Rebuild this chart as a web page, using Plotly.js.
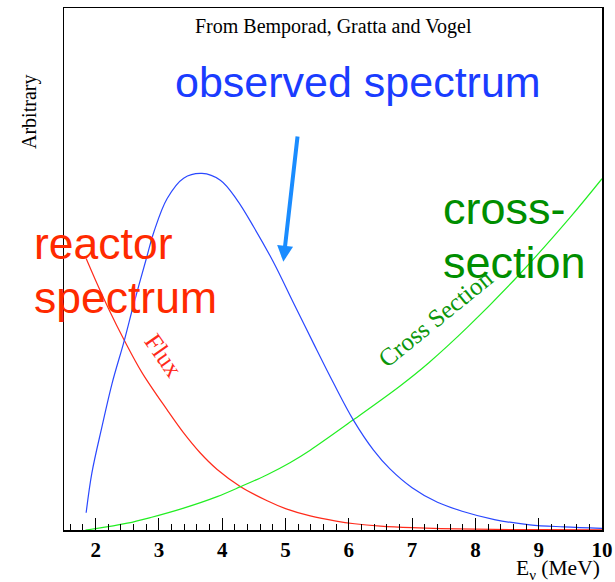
<!DOCTYPE html>
<html>
<head>
<meta charset="utf-8">
<script src="https://cdn.plot.ly/plotly-3.0.1.min.js"></script>
<style>html,body{margin:0;padding:0;background:#fff;}#chart{width:615px;height:582px;}</style>
</head>
<body>
<div id="chart"></div>
<script>
// Energies (MeV) and arbitrary-unit values
const obsEnergy = [1.85, 1.94, 2.10, 2.26, 2.45, 2.60, 2.81, 2.92, 3.13, 3.39, 3.68, 3.97, 4.23, 4.50, 4.81, 5.13, 5.44, 5.76, 6.07, 6.39, 6.65, 7.00, 7.40, 7.79, 8.30, 8.86, 9.40, 10.0];
const obsValue  = [3.3, 10.9, 19.8, 28.1, 36.2, 43.2, 52.4, 57.1, 63.5, 67.4, 68.3, 67.0, 63.3, 58.0, 51.3, 43.4, 35.8, 28.1, 21.1, 15.3, 11.7, 8.1, 5.3, 3.6, 2.0, 1.0, 0.6, 0.3];

const fluxEnergy = [1.85, 2.00, 2.20, 2.45, 2.73, 3.13, 3.39, 3.65, 3.92, 4.29, 4.71, 5.00, 5.39, 5.80, 6.09, 6.50, 7.00, 8.00, 9.00, 10.0];
const fluxValue  = [52.0, 47.8, 42.5, 36.4, 30.2, 23.0, 18.6, 14.8, 11.6, 8.3, 5.6, 4.1, 2.7, 1.7, 1.2, 0.75, 0.45, 0.15, 0.06, 0.02];

const xsecEnergy = [1.84, 2.00, 2.50, 2.87, 3.39, 3.92, 4.29, 4.71, 5.07, 5.39, 6.07, 6.81, 7.26, 7.88, 8.69, 9.49, 10.0];
const xsecValue  = [0.0, 0.25, 1.3, 2.4, 4.2, 6.4, 8.3, 10.6, 12.9, 15.3, 21.1, 27.6, 32.0, 38.9, 48.9, 59.8, 67.3];

const xTickVals = [2, 3, 4, 5, 6, 7, 8, 9, 10];

// plot-area geometry in pixels (for placing annotations)
const L = 64, R = 602, T = 8, B = 530;
const px = v => (v - L) / (R - L);
const py = v => (B - v) / (B - T);

const serif = 'Liberation Serif, Times New Roman, serif';
const sans = 'Liberation Sans, Arial, Helvetica, sans-serif';

const traces = [
  {x: fluxEnergy, y: fluxValue, mode: 'lines', line: {color: '#ff2a1a', width: 1.2, shape: 'spline'}, hoverinfo: 'none'},
  {x: xsecEnergy, y: xsecValue, mode: 'lines', line: {color: '#22ee22', width: 1.2, shape: 'spline'}, hoverinfo: 'none'},
  {x: obsEnergy, y: obsValue, mode: 'lines', line: {color: '#2a48ff', width: 1.2, shape: 'spline'}, hoverinfo: 'none'}
];

const blueTxt = '#1a3cff', redTxt = '#ff2a00', greenTxt = '#008e00';

function note(text, x, y, opts) {
  return Object.assign({text: text, x: px(x), y: py(y), xref: 'paper', yref: 'paper',
    xanchor: 'center', yanchor: 'middle', showarrow: false}, opts);
}

const annotations = [
  note('From Bemporad, Gratta and Vogel', 333, 27, {font: {family: serif, size: 20, color: '#000'}}),
  note('observed spectrum', 358, 82, {font: {family: sans, size: 43, color: blueTxt}}),
  note('reactor', 32, 243, {xanchor: 'left', font: {family: sans, size: 44.5, color: redTxt}}),
  note('spectrum', 32, 297, {xanchor: 'left', font: {family: sans, size: 44.5, color: redTxt}}),
  note('cross-', 441, 208, {xanchor: 'left', font: {family: sans, size: 45, color: greenTxt}}),
  note('section', 441, 262, {xanchor: 'left', font: {family: sans, size: 45, color: greenTxt}}),
  note('Flux', 164, 355, {textangle: 55, font: {family: serif, size: 25, color: '#ff2a1a'}}),
  note('Cross Section', 435, 318, {textangle: -39, font: {family: serif, size: 25, color: '#0a960a'}}),
  {text: '', x: px(283.3), y: py(261.7), xref: 'paper', yref: 'paper', showarrow: true, ax: 14.4, ay: -126.7,
   arrowhead: 2, arrowsize: 0.8, arrowwidth: 4, arrowcolor: '#1a8cff', standoff: 0},
  note('Arbitrary', 29, 112, {textangle: -90, font: {family: serif, size: 20, color: '#000'}}),
  note('E<sub>ν</sub> (MeV)', 602, 569, {xanchor: 'right', font: {family: serif, size: 21.5, color: '#000'}})
];

const layout = {
  width: 615, height: 582,
  margin: {l: L, r: 615 - R, t: T, b: 582 - B, pad: 0},
  paper_bgcolor: '#fff', plot_bgcolor: '#fff',
  showlegend: false,
  xaxis: {
    range: [1.5, 10], showgrid: false, zeroline: false,
    showline: true, linecolor: '#000', linewidth: 1.5, mirror: true,
    ticks: 'inside', ticklen: 12, tickwidth: 1, tickcolor: '#000',
    tickvals: xTickVals, ticktext: xTickVals.map(String),
    tickfont: {family: serif, size: 21, color: '#000', weight: 'bold'},
    minor: {dtick: 0.2, tick0: 0, ticks: 'inside', ticklen: 6, tickwidth: 1, tickcolor: '#000', showgrid: false}
  },
  yaxis: {
    range: [0, 100], showgrid: false, zeroline: false,
    showline: true, linecolor: '#000', linewidth: 1.5, mirror: true,
    ticks: '', showticklabels: false
  },
  annotations: annotations
};

Plotly.newPlot('chart', traces, layout, {displayModeBar: false, staticPlot: true});
</script>
</body>
</html>
